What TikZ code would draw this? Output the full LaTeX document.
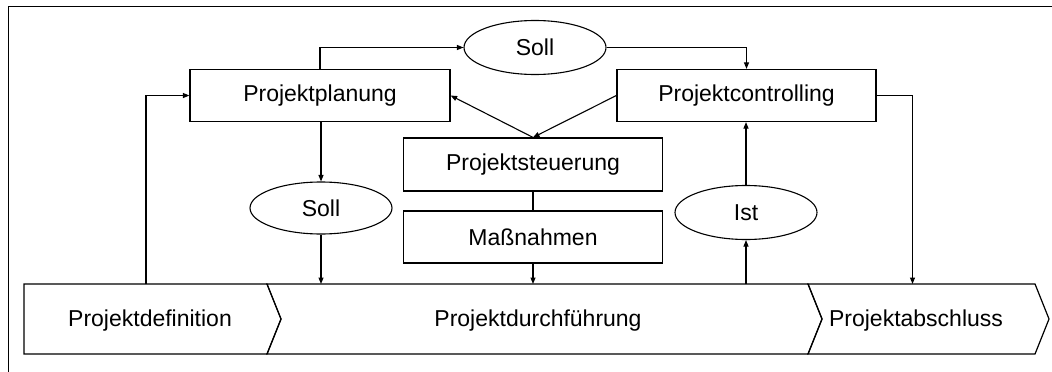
\documentclass[tikz,border=0pt]{standalone}
\usepackage{fontspec}
\setmainfont{Liberation Sans}
\usetikzlibrary{shapes.geometric,arrows.meta}
\begin{document}
\begin{tikzpicture}[x=1pt,y=-1pt,
  every node/.style={font=\fontsize{23}{27}\selectfont},
  box/.style={draw,line width=1.2pt,inner sep=0pt,minimum width=259pt,minimum height=52pt},
  oval/.style={draw,ellipse,line width=1.1pt,inner sep=0pt,minimum width=142pt,minimum height=54pt},
  link/.style={line width=1.1pt,-{Triangle[length=6.5pt,width=5pt]}},
  plain/.style={line width=1.1pt},
  phase/.style={draw,line width=1.2pt,line join=miter}]
\useasboundingbox (0,0) rectangle (1052,372);
% outer frame (left and top edges)
\draw[line width=0.9pt] (8,372) -- (8,6) -- (1052,6);

% process phases
\draw[phase] (24,284) -- (267,284) -- (281,319) -- (267,354) -- (24,354) -- cycle;
\draw[phase] (267,284) -- (808,284) -- (822,319) -- (808,354) -- (267,354) -- (281,319) -- cycle;
\draw[phase] (808,284) -- (1035,284) -- (1049,319) -- (1035,354) -- (808,354) -- (822,319) -- cycle;
\node (def) at (150,321) {Projektdefinition};
\node (durch) at (538,321) {Projektdurchführung};
\node (absch) at (916,321) {Projektabschluss};
\coordinate (bartop) at (24,284);

% management boxes
\node[box,minimum width=260pt] (plan) at (320,95.5) {Projektplanung};
\node[box] (ctrl) at (746.5,95.5) {Projektcontrolling};
\node[box,minimum height=53pt] (steu) at (533,164.5) {Projektsteuerung};
\node[box] (mass) at (533,237) {Maßnahmen};

% target / actual values
\node[oval] (sollA) at (535,47.5) {Soll};
\node[oval,minimum height=52pt] (sollB) at (321,208) {Soll};
\node[oval] (ist) at (746,212.5) {Ist};

% connectors
\draw[link] (plan.north) |- (sollA.west);
\draw[link] (sollA.east) -| (ctrl.north);
\draw[link] (ctrl.west) -- (steu.north);
\draw[link] (steu.north) -- (plan.east);
\draw[plain] (steu.south) -- (mass.north);
\draw[link] (mass.south) -- (mass.south |- bartop);
\draw[link] (plan.south -| sollB.north) -- (sollB.north);
\draw[link] (sollB.south) -- (sollB.south |- bartop);
\draw[link] (ist.south |- bartop) -- (ist.south);
\draw[link] (ist.north) -- (ctrl.south -| ist.north);
\draw[link] (146,284) |- (plan.west);
\draw[link] (ctrl.east) -| (912.5,284);
\end{tikzpicture}
\end{document}
